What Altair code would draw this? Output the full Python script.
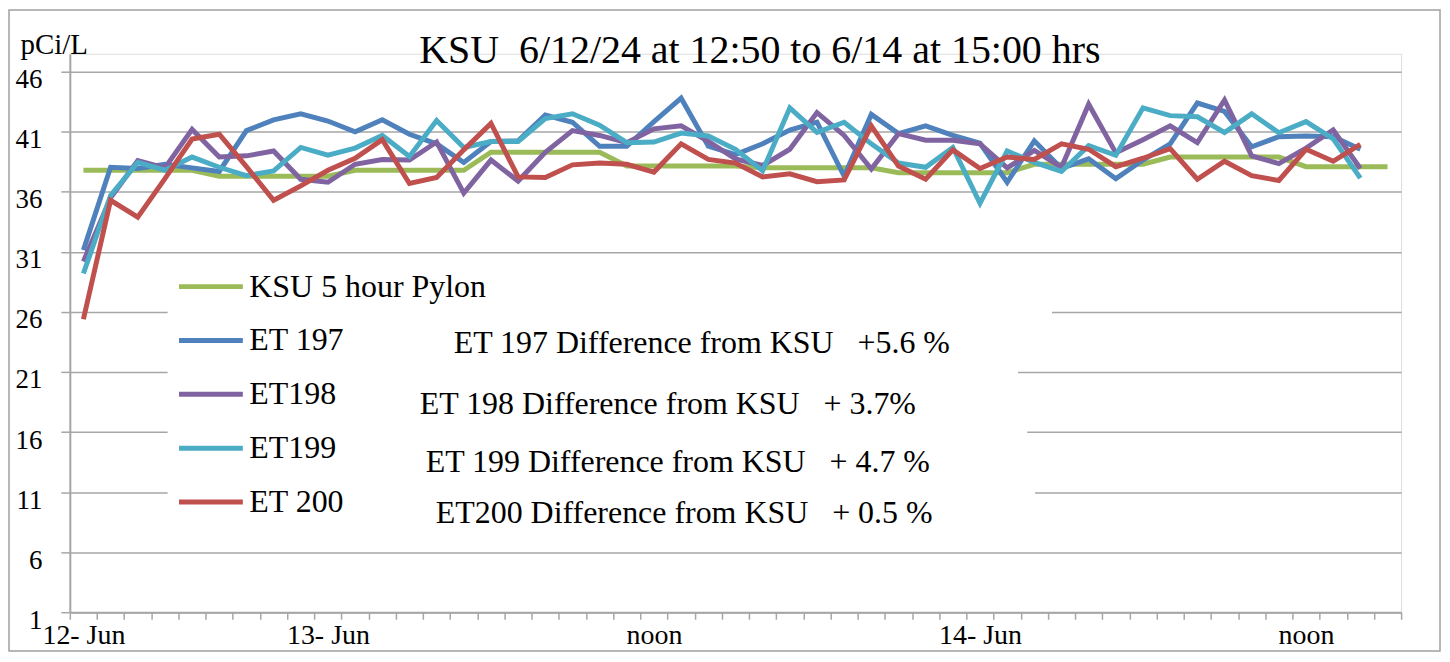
import altair as alt
import pandas as pd

# ---------------- data ----------------
series_names = ["KSU 5 hour Pylon", "ET 197", "ET198", "ET199", "ET 200"]
series_colors = ["#9BBB59", "#4F81BD", "#8064A2", "#4BACC6", "#C0504D"]

ksu = [37.8, 37.8, 37.8, 37.8, 37.8,
       37.3, 37.3, 37.3, 37.3, 37.3,
       37.8, 37.8, 37.8, 37.8, 37.8,
       39.3, 39.3, 39.3, 39.3, 39.3,
       38.15, 38.15, 38.15, 38.15, 38.15,
       38.0, 38.0, 38.0, 38.0, 38.0,
       37.6, 37.6, 37.6, 37.6, 37.6,
       38.3, 38.3, 38.3, 38.3, 38.3,
       38.9, 38.9, 38.9, 38.9, 38.9,
       38.1, 38.1, 38.1, 38.1]

et197 = [31.15, 38.05, 37.95, 38.3, 38.0, 37.7, 41.1, 42.0, 42.5, 41.9,
         41.0, 42.0, 40.8, 40.0, 38.45, 40.2, 40.25, 42.4, 41.8, 39.8,
         39.8, 41.85, 43.8, 39.8, 39.1, 40.0, 41.15, 41.8, 37.3, 42.45,
         40.85, 41.5, 40.7, 40.05, 36.8, 40.25, 37.95, 38.75, 37.1, 38.65,
         40.0, 43.4, 42.7, 39.75, 40.6, 40.65, 40.6, 39.55]

et198 = [30.2, 35.5, 38.6, 38.0, 41.2, 38.9, 39.0, 39.4, 37.05, 36.8,
         38.3, 38.7, 38.65, 40.15, 35.9, 38.65, 36.9, 39.3, 41.1, 40.7,
         40.1, 41.25, 41.5, 40.2, 38.75, 38.2, 39.55, 42.6, 40.7, 37.9,
         40.85, 40.3, 40.3, 40.0, 38.0, 39.45, 38.05, 43.3, 39.25, 40.35,
         41.5, 40.1, 43.65, 39.0, 38.35, 39.65, 41.15, 37.95]

et199 = [29.2, 35.7, 38.45, 37.8, 38.9, 38.05, 37.35, 37.75, 39.7, 39.05,
         39.65, 40.7, 38.95, 41.95, 39.7, 40.2, 40.2, 42.1, 42.5, 41.55,
         40.1, 40.15, 40.9, 40.65, 39.55, 37.75, 43.0, 40.95, 41.8, 40.0,
         38.4, 38.05, 39.7, 35.05, 39.4, 38.45, 37.7, 39.85, 39.05, 43.0,
         42.35, 42.25, 40.95, 42.5, 40.92, 41.85, 40.42, 37.15]

et200 = [25.4, 35.3, 33.9, 37.1, 40.4, 40.8, 38.1, 35.3, 36.5, 37.8,
         38.8, 40.35, 36.7, 37.2, 39.5, 41.7, 37.25, 37.2, 38.25, 38.4,
         38.3, 37.65, 40.0, 38.7, 38.4, 37.25, 37.5, 36.85, 37.0, 41.5,
         38.15, 37.05, 39.5, 37.95, 38.9, 38.7, 40.0, 39.55, 38.1, 38.8,
         39.6, 37.05, 38.55, 37.35, 36.95, 39.55, 38.55, 39.95]

# category axis labels (category index -> label)
x_label_idx = [0, 9, 21, 33, 45]
x_labels = ["12- Jun", "13- Jun", "noon", "14- Jun", "noon"]
n_categories = 49

y_ticks = [1, 6, 11, 16, 21, 26, 31, 36, 41, 46]

NB = "\u00a0"
# text boxes with the differences
ann_text = ["ET 197 Difference from KSU" + NB * 3 + "+5.6 %",
            "ET 198 Difference from KSU" + NB * 3 + "+ 3.7%",
            "ET 199 Difference from KSU" + NB * 3 + "+ 4.7 %",
            "ET200 Difference from KSU" + NB * 3 + "+ 0.5 %"]
ann_x = [13.63, 12.38, 12.6, 12.97]
ann_y = [23.4, 18.3, 13.5, 9.3]

# white backgrounds of the legend / text boxes (hide grid lines behind them)
box_x1 = [3.1, 3.1, 3.1, 3.1]
box_x2 = [35.65, 34.4, 34.74, 35.03]
box_y1 = [23.6, 18.6, 13.6, 8.6]
box_y2 = [28.4, 23.4, 18.4, 13.4]

title_text = "KSU" + NB * 2 + "6/12/24 at 12:50 to 6/14 at 15:00 hrs"

# ---------------- tables ----------------
rows = []
for name, vals in zip(series_names, [ksu, et197, et198, et199, et200]):
    for i, v in enumerate(vals):
        rows.append({"idx": i, "value": v, "series": name})
df = pd.DataFrame(rows)

ann_df = pd.DataFrame({"x": ann_x, "y": ann_y, "text": ann_text})
box_df = pd.DataFrame({"x1": box_x1, "x2": box_x2, "y1": box_y1, "y2": box_y2})
title_df = pd.DataFrame({"text": [title_text]})

W, H = 1335, 560
FONT = "Liberation Serif, Times New Roman, serif"
GRID = "#A6A6A6"

tick_vals = [i - 0.5 for i in range(n_categories + 1)]
label_expr = " : ".join(
    [f"abs(datum.value - ({i - 0.5})) < 0.01 ? '{t}'" for i, t in zip(x_label_idx, x_labels)]
) + " : ''"

x_scale = alt.Scale(domain=[-0.5, n_categories - 0.5], nice=False, zero=False)
y_scale = alt.Scale(domain=[1, 47.5], nice=False, zero=False)

x_axis = alt.Axis(
    values=tick_vals, labelExpr=label_expr, title=None, grid=False,
    tickSize=7, tickColor=GRID, tickWidth=1.5,
    domainColor=GRID, domainWidth=2,
    labelFont=FONT, labelFontSize=28, labelColor="black",
    labelOffset=W / n_categories / 2,
    labelAlign="center", labelBaseline="top", labelPadding=2,
    labelOverlap=False, labelFlush=False, labelBound=False,
)

y_axis = alt.Axis(
    values=y_ticks, grid=True, gridColor=GRID, gridWidth=1.5,
    tickSize=9, tickColor=GRID, tickWidth=1.5,
    domainColor=GRID, domainWidth=2,
    labelFont=FONT, labelFontSize=27, labelColor="black",
    labelPadding=19, labelOffset=8, labelAlign="right",
    labelOverlap=False,
    title="pCi/L", titleAngle=0, titleAlign="left", titleBaseline="alphabetic",
    titleX=-50, titleY=0, titleFont=FONT, titleFontSize=29,
    titleFontWeight="normal", titleColor="black",
)

boxes = alt.Chart(box_df).mark_rect(color="white").encode(
    x=alt.X("x1:Q", scale=x_scale, axis=x_axis),
    x2="x2:Q",
    y=alt.Y("y1:Q", scale=y_scale, axis=y_axis),
    y2="y2:Q",
)

lines = alt.Chart(df).mark_line(strokeWidth=5, strokeJoin="miter").encode(
    x=alt.X("idx:Q", scale=x_scale, axis=x_axis),
    y=alt.Y("value:Q", scale=y_scale, axis=y_axis),
    color=alt.Color(
        "series:N",
        scale=alt.Scale(domain=series_names, range=series_colors),
        sort=series_names,
        legend=alt.Legend(
            title=None, orient="none", legendX=107, legendY=199,
            direction="vertical", symbolType="stroke", symbolSize=4096,
            symbolStrokeWidth=5, labelFont=FONT, labelFontSize=32,
            labelColor="black", labelOffset=4, rowPadding=3, padding=0,
            labelLimit=400,
        ),
    ),
    order=alt.Order("idx:Q"),
)

ann = alt.Chart(ann_df).mark_text(
    font=FONT, fontSize=32, align="left", baseline="middle", color="black"
).encode(
    x=alt.X("x:Q", scale=x_scale, axis=x_axis),
    y=alt.Y("y:Q", scale=y_scale, axis=y_axis),
    text="text:N",
)

title = alt.Chart(title_df).mark_text(
    font=FONT, fontSize=40, align="center", baseline="alphabetic", color="black"
).encode(
    x=alt.value(692), y=alt.value(9), text="text:N",
)

frame = alt.Chart(box_df.head(1)).mark_rect(
    fill="transparent", stroke="#A0A0A0", strokeWidth=1.5, clip=False
).encode(
    x=alt.value(-61), x2=alt.value(W + 39),
    y=alt.value(-44), y2=alt.value(H + 39),
)

chart = alt.layer(boxes, lines, ann, title, frame).properties(
    width=W, height=H,
    autosize=alt.AutoSizeParams(type="none"),
    padding={"left": 62, "top": 45, "right": 41, "bottom": 41},
).configure_view(strokeWidth=0).configure_axisX(
    labelOverlap=False
).configure(background="white")

chart.save("out.html", embed_options={"renderer": "svg", "actions": False})
